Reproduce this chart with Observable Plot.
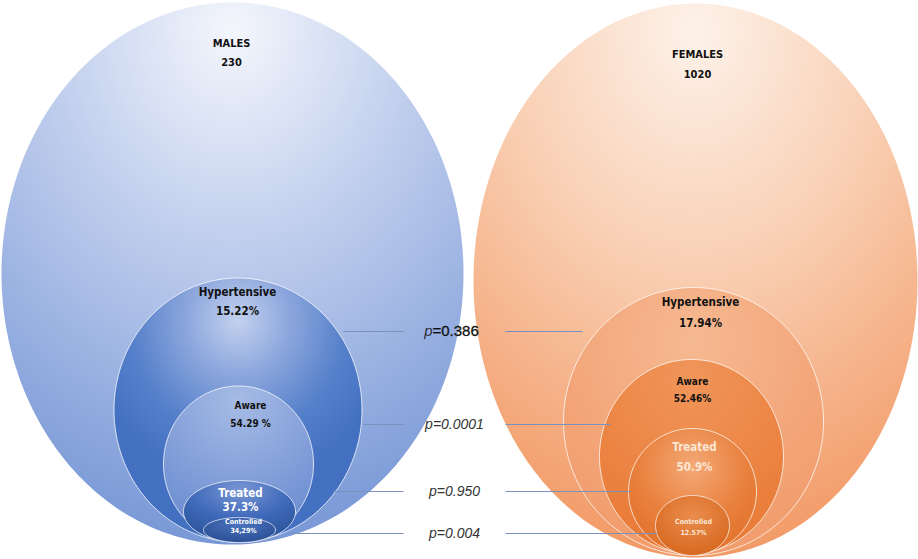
<!DOCTYPE html>
<html>
<head>
<meta charset="utf-8">
<script src="https://cdn.jsdelivr.net/npm/d3@7"></script>
<script src="https://cdn.jsdelivr.net/npm/@observablehq/plot@0.6"></script>
<style>
  html, body { margin: 0; padding: 0; background: #fff; }
  #chart { width: 918px; height: 559px; overflow: hidden; }
</style>
</head>
<body>
<div id="chart"></div>
<script>
// ---------- DATA ----------
const groups = ["MALES", "FEMALES"];
const groupCounts = ["230", "1020"];
const stages = ["Hypertensive", "Aware", "Treated", "Controlled"];
const malePercents = ["15.22%", "54.29 %", "37.3%", "34,29%"];
const femalePercents = ["17.94%", "52.46%", "50.9%", "12.57%"];
const pValues = ["0.386", "0.0001", "0.950", "0.004"];

// ---------- LAYOUT (diagram geometry, pixel space) ----------
// ellipse: [cx, cy, rx, ry]
const maleEllipses = [
  [232, 273, 231, 271],
  [237.5, 409.5, 124, 132],
  [238, 463.5, 75, 78],
  [239, 511, 56, 31],
  [239, 529.5, 36, 12.5]
];
const femaleEllipses = [
  [695, 280, 222, 277],
  [693, 421, 130, 134],
  [691, 456, 92, 97],
  [692, 491, 64, 63],
  [692, 525, 37, 30]
];
// label positions [x, yTitle, yValue, size, color]
const maleLabelPos = [
  [231, 43, 62, 11, "#111111"],
  [237, 292, 311, 11.5, "#111111"],
  [250, 405, 423, 10, "#111111"],
  [240, 493, 507, 11.5, "#ffffff"],
  [243, 521, 530, 7, "#ffffff"]
];
const femaleLabelPos = [
  [697, 54, 74, 11, "#111111"],
  [700, 302, 323, 11.5, "#111111"],
  [692, 381, 398, 10, "#111111"],
  [694, 447, 467, 11.5, "#fde6d4"],
  [693, 521, 532, 7, "#fde6d4"]
];
// p-value rows: [y, leftLineStart, rightLineEnd]
const pRows = [[331, 343, 582], [424, 363, 610], [491, 333, 630], [533, 290, 657]];
const pLeftEnd = 403, pRightStart = 505, pTextX = 454;

// gradients (styles)
const gradients = {
  m0: {cx: "50%", cy: "5%", r: "95%", stops: [[0, "#f4f6fc"], [0.45, "#bccbec"], [1, "#7898d6"]]},
  m1: {cx: "50%", cy: "16%", r: "62%", stops: [[0, "#c3d1ee"], [0.35, "#8aa5dc"], [0.7, "#5580ca"], [1, "#4470c2"]]},
  m2: {cx: "50%", cy: "10%", r: "95%", stops: [[0, "#a6bce5"], [0.6, "#7f9cd8"], [1, "#6688ce"]]},
  m3: {cx: "50%", cy: "15%", r: "75%", stops: [[0, "#7996d4"], [0.6, "#3f69ba"], [1, "#2f589f"]]},
  m4: {cx: "50%", cy: "30%", r: "70%", stops: [[0, "#4a72bd"], [1, "#2a4f96"]]},
  f0: {cx: "50%", cy: "5%", r: "95%", stops: [[0, "#fdf2ea"], [0.45, "#f9cfb3"], [1, "#f29a66"]]},
  f1: {cx: "50%", cy: "20%", r: "80%", stops: [[0, "#f6b992"], [0.6, "#f3a67a"], [1, "#f19c6c"]]},
  f2: {cx: "50%", cy: "10%", r: "90%", stops: [[0, "#f09559"], [1, "#e97a36"]]},
  f3: {cx: "50%", cy: "30%", r: "70%", stops: [[0, "#f3a977"], [0.6, "#e9813e"], [1, "#e2722b"]]},
  f4: {cx: "50%", cy: "35%", r: "70%", stops: [[0, "#ea8d4e"], [1, "#d6661c"]]}
};

// ---------- BUILD ----------
function ellipsePoints(e, id) {
  const [cx, cy, rx, ry] = e;
  const pts = [];
  const n = 240;
  for (let i = 0; i <= n; i++) {
    const t = (i / n) * 2 * Math.PI;
    pts.push({id, x: cx + rx * Math.cos(t), y: cy + ry * Math.sin(t)});
  }
  return pts;
}

const marks = [];
[["m", maleEllipses], ["f", femaleEllipses]].forEach(([pre, list]) => {
  list.forEach((e, i) => {
    marks.push(Plot.line(ellipsePoints(e, pre + i), {
      x: "x", y: "y", curve: "linear",
      fill: `url(#g${pre}${i})`,
      stroke: i === 0 ? "none" : "rgba(255,255,255,0.75)",
      strokeWidth: 1
    }));
  });
});

// p-value connector lines
const pLinks = pRows.flatMap(([y, l, r]) => [
  {x1: l, x2: pLeftEnd, y},
  {x1: pRightStart, x2: r, y}
]);
marks.push(Plot.link(pLinks, {x1: "x1", x2: "x2", y1: "y", y2: "y", stroke: "#7b91bd", strokeWidth: 1.1}));

// labels
function labelRows(titles, values, pos) {
  return pos.map((p, i) => ({x: p[0], yt: p[1], yv: p[2], size: p[3], color: p[4], t: titles[i], v: values[i]}));
}
const maleRows = labelRows([groups[0], ...stages], [groupCounts[0], ...malePercents], maleLabelPos);
const femaleRows = labelRows([groups[1], ...stages], [groupCounts[1], ...femalePercents], femaleLabelPos);
const allRows = [...maleRows, ...femaleRows];
const fontLbl = "'Liberation Sans Narrow', 'DejaVu Sans Condensed', 'Liberation Sans', sans-serif";
allRows.forEach(r => {
  marks.push(Plot.text([r], {x: "x", y: "yt", text: "t", fontSize: r.size, fontWeight: "bold", fill: r.color, fontFamily: fontLbl, textAnchor: "middle"}));
  marks.push(Plot.text([r], {x: "x", y: "yv", text: "v", fontSize: r.size, fontWeight: "bold", fill: r.color, fontFamily: fontLbl, textAnchor: "middle"}));
});

// p-value text
const pFont = "'Liberation Sans', Arial, sans-serif";
const pData = pRows.map((r, i) => ({y: r[0], v: pValues[i]}));
marks.push(Plot.text([pData[0]], {x: pTextX - 22, y: "y", text: () => "p", fontStyle: "italic", fontSize: 15, fill: "#2a2a3a", fontFamily: pFont, textAnchor: "end"}));
marks.push(Plot.text([pData[0]], {x: pTextX - 22, y: "y", text: d => "=" + d.v, fontSize: 15, fill: "#111", stroke: "#111", strokeWidth: 0.3, fontFamily: pFont, textAnchor: "start"}));
marks.push(Plot.text(pData.slice(1), {x: pTextX, y: "y", text: d => "p=" + d.v, fontStyle: "italic", fontSize: 14, fill: "#333", fontFamily: pFont, textAnchor: "middle"}));

const chart = Plot.plot({
  width: 918,
  height: 559,
  margin: 0,
  x: {domain: [0, 918], range: [0, 918], axis: null},
  y: {domain: [0, 559], range: [0, 559], axis: null},
  style: {background: "#ffffff", overflow: "hidden"},
  marks
});

// gradient defs
const ns = "http://www.w3.org/2000/svg";
const defs = document.createElementNS(ns, "defs");
Object.entries(gradients).forEach(([k, g]) => {
  const rg = document.createElementNS(ns, "radialGradient");
  rg.setAttribute("id", "g" + k);
  rg.setAttribute("cx", g.cx); rg.setAttribute("cy", g.cy); rg.setAttribute("r", g.r);
  rg.setAttribute("fx", g.cx); rg.setAttribute("fy", g.cy);
  g.stops.forEach(([o, c]) => {
    const s = document.createElementNS(ns, "stop");
    s.setAttribute("offset", o); s.setAttribute("stop-color", c);
    rg.appendChild(s);
  });
  defs.appendChild(rg);
});
chart.insertBefore(defs, chart.firstChild);
document.getElementById("chart").appendChild(chart);
</script>
</body>
</html>
